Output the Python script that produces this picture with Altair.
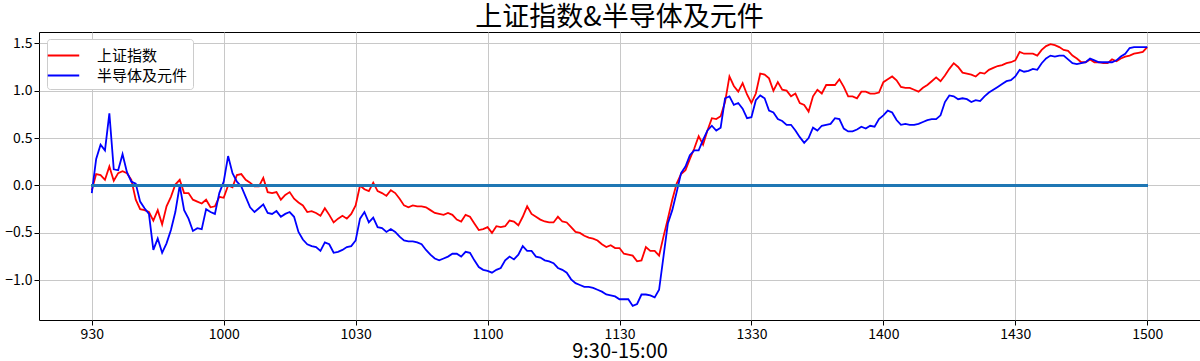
import altair as alt
import pandas as pd

FONT = "Noto Sans CJK SC"

title_text = "上证指数&半导体及元件"
x_title = "9:30-15:00"
series_names = ["上证指数", "半导体及元件"]
series_colors = ["red", "blue"]
tick_positions = [0, 30, 60, 90, 120, 150, 180, 210, 240]
tick_labels = ["930", "1000", "1030", "1100", "1130", "1330", "1400", "1430", "1500"]
y_ticks = [-1.0, -0.5, 0.0, 0.5, 1.0, 1.5]

# 上证指数 (% change), one value per trading minute
sh_index = [
    -0.05, 0.12, 0.11, 0.06, 0.20, 0.05, 0.13, 0.15, 0.13, 0.06,
    -0.15, -0.25, -0.26, -0.28, -0.37, -0.26, -0.41, -0.22, -0.12, 0.01,
    0.06, -0.08, -0.08, -0.15, -0.17, -0.19, -0.15, -0.23, -0.22, -0.12,
    -0.13, 0.00, -0.02, 0.11, 0.12, 0.06, 0.03, -0.01, -0.01, 0.08,
    -0.07, -0.08, -0.07, -0.15, -0.10, -0.07, -0.14, -0.18, -0.21, -0.28,
    -0.27, -0.29, -0.32, -0.24, -0.31, -0.39, -0.35, -0.32, -0.35, -0.30,
    -0.21, 0.00, -0.04, -0.06, 0.03, -0.06, -0.08, -0.11, -0.05, -0.08,
    -0.14, -0.21, -0.23, -0.21, -0.22, -0.22, -0.23, -0.26, -0.29, -0.30,
    -0.31, -0.29, -0.31, -0.36, -0.38, -0.31, -0.33, -0.40, -0.47, -0.46,
    -0.44, -0.50, -0.43, -0.44, -0.43, -0.37, -0.38, -0.42, -0.33, -0.22,
    -0.30, -0.33, -0.36, -0.38, -0.39, -0.39, -0.33, -0.38, -0.39, -0.44,
    -0.49, -0.50, -0.53, -0.55, -0.56, -0.58, -0.62, -0.65, -0.63, -0.66,
    -0.66, -0.72, -0.73, -0.74, -0.80, -0.79, -0.65, -0.69, -0.69, -0.74,
    -0.54, -0.35, -0.15, 0.02, 0.12, 0.16, 0.28, 0.39, 0.52, 0.43,
    0.58, 0.71, 0.70, 0.73, 0.88, 1.15, 1.05, 0.99, 1.08, 0.96,
    0.87, 0.97, 1.18, 1.17, 1.13, 1.00, 1.09, 1.01, 1.00, 0.94,
    0.97, 0.87, 0.85, 0.78, 0.94, 1.01, 0.97, 1.06, 1.06, 1.06,
    1.12, 1.04, 0.94, 0.94, 0.92, 0.99, 0.99, 0.97, 0.97, 0.98,
    1.09, 1.12, 1.15, 1.11, 1.04, 1.03, 1.03, 1.01, 0.99, 1.03,
    1.06, 1.10, 1.14, 1.10, 1.16, 1.23, 1.29, 1.25, 1.19, 1.18,
    1.17, 1.15, 1.19, 1.18, 1.22, 1.24, 1.26, 1.27, 1.29, 1.30,
    1.32, 1.41, 1.39, 1.39, 1.39, 1.37, 1.43, 1.47, 1.49, 1.48,
    1.46, 1.43, 1.42, 1.37, 1.34, 1.30, 1.30, 1.33, 1.30, 1.30,
    1.29, 1.29, 1.33, 1.31, 1.34, 1.36, 1.37, 1.39, 1.40, 1.41,
    1.46,
]

# 半导体及元件 (% change)
semi = [
    -0.08, 0.28, 0.43, 0.37, 0.76, 0.17, 0.16, 0.33, 0.14, 0.04,
    0.02, -0.17, -0.24, -0.30, -0.68, -0.56, -0.71, -0.61, -0.47, -0.28,
    0.00, -0.26, -0.35, -0.48, -0.45, -0.46, -0.25, -0.28, -0.30, -0.08,
    0.04, 0.31, 0.13, 0.04, -0.01, -0.12, -0.23, -0.28, -0.24, -0.20,
    -0.29, -0.30, -0.27, -0.33, -0.30, -0.28, -0.33, -0.49, -0.57, -0.62,
    -0.64, -0.65, -0.69, -0.60, -0.62, -0.71, -0.70, -0.68, -0.65, -0.64,
    -0.58, -0.35, -0.28, -0.39, -0.34, -0.44, -0.45, -0.49, -0.46, -0.49,
    -0.54, -0.58, -0.59, -0.59, -0.60, -0.62, -0.68, -0.73, -0.77, -0.79,
    -0.77, -0.75, -0.72, -0.72, -0.75, -0.70, -0.71, -0.79, -0.86, -0.89,
    -0.90, -0.92, -0.89, -0.87, -0.79, -0.75, -0.78, -0.73, -0.64, -0.69,
    -0.69, -0.75, -0.76, -0.79, -0.80, -0.82, -0.87, -0.89, -0.92, -0.99,
    -1.03, -1.05, -1.07, -1.07, -1.08, -1.10, -1.12, -1.15, -1.16, -1.17,
    -1.20, -1.20, -1.20, -1.27, -1.25, -1.15, -1.15, -1.16, -1.18, -1.10,
    -0.75, -0.40, -0.26, -0.07, 0.13, 0.20, 0.32, 0.37, 0.37, 0.48,
    0.58, 0.63, 0.58, 0.61, 0.92, 0.94, 0.85, 0.87, 0.81, 0.71,
    0.72, 0.90, 0.95, 0.92, 0.79, 0.77, 0.70, 0.68, 0.64, 0.64,
    0.58, 0.51, 0.45, 0.50, 0.61, 0.58, 0.63, 0.64, 0.65, 0.71,
    0.70, 0.60, 0.57, 0.57, 0.59, 0.62, 0.60, 0.63, 0.62, 0.70,
    0.74, 0.79, 0.77, 0.69, 0.64, 0.65, 0.64, 0.64, 0.65, 0.67,
    0.69, 0.70, 0.70, 0.74, 0.88, 0.95, 0.94, 0.91, 0.92, 0.91,
    0.88, 0.90, 0.89, 0.94, 0.98, 1.01, 1.04, 1.07, 1.10, 1.11,
    1.15, 1.22, 1.20, 1.21, 1.23, 1.22, 1.29, 1.34, 1.37, 1.36,
    1.37, 1.37, 1.33, 1.29, 1.28, 1.29, 1.30, 1.34, 1.32, 1.30,
    1.30, 1.30, 1.30, 1.32, 1.36, 1.39, 1.45, 1.46, 1.46, 1.46,
    1.46,
]

rows = []
for name, vals in zip(series_names, [sh_index, semi]):
    for i, v in enumerate(vals):
        rows.append({"t": i, "v": v, "s": name})
df = pd.DataFrame(rows)

label_expr = "[" + ",".join(f"'{l}'" for l in tick_labels) + "][round(datum.value / 30)]"

x_enc = alt.X(
    "t:Q",
    scale=alt.Scale(domain=[-12, 252], nice=False, zero=False),
    axis=alt.Axis(values=tick_positions, labelExpr=label_expr, title=x_title,
                  titleFontSize=20, titleBaseline="alphabetic", titleY=37),
)
y_enc = alt.Y(
    "v:Q",
    scale=alt.Scale(domain=[-1.419, 1.619], nice=False, zero=False),
    axis=alt.Axis(values=y_ticks, format=".1f", title=None),
)

lines = alt.Chart(df).mark_line(strokeWidth=1.8).encode(
    x=x_enc,
    y=y_enc,
    color=alt.Color(
        "s:N",
        scale=alt.Scale(domain=series_names, range=series_colors),
        sort=series_names,
        legend=alt.Legend(
            title=None, orient="none", legendX=8, legendY=7,
            symbolType="M-1.5,0L1.5,0", symbolSize=440, symbolStrokeWidth=1.8,
            labelFontSize=15, labelFont=FONT, labelOffset=22, rowPadding=0,
            padding=5, strokeColor="#cccccc", fillColor="white", cornerRadius=3,
        ),
    ),
)

zero = alt.Chart(df).mark_rule(color="#1f77b4", strokeWidth=1.8).encode(
    x=alt.datum(tick_positions[0]), x2=alt.datum(tick_positions[-1]), y=alt.datum(0)
)

chart = (
    alt.layer(lines, zero)
    .properties(
        width=1161, height=288,
        title=alt.TitleParams(title_text, fontSize=27, font=FONT, fontWeight="normal",
                              color="black", anchor="middle", offset=4, dy=4),
        autosize=alt.AutoSizeParams(type="none"),
        padding={"left": 39, "top": 32, "right": 0, "bottom": 41},
    )
    .configure_view(stroke="black", strokeWidth=1)
    .configure_axis(
        labelFont=FONT, labelFontSize=14, labelColor="black",
        titleFont=FONT, titleFontWeight="normal", titleColor="black",
        tickColor="black", tickSize=5, domain=False,
        gridColor="#c8c8c8", gridWidth=1, labelPadding=2,
    )
)

chart.save("out.html", embed_options={"renderer": "svg", "actions": False})
